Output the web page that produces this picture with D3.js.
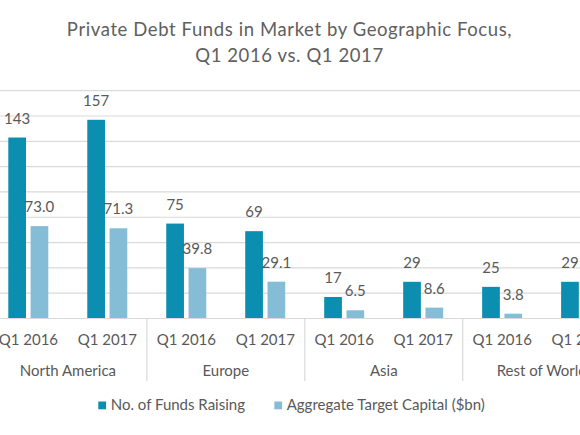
<!DOCTYPE html>
<html>
<head>
<meta charset="utf-8">
<script src="https://cdn.jsdelivr.net/npm/d3@7"></script>
<style>
  html, body { margin: 0; padding: 0; background: #ffffff; }
  svg { display: block; }
  text { font-family: Lato, "Open Sans", sans-serif; fill: #595959; }
</style>
</head>
<body>
<div id="chart"></div>
<script>
// ---- Data ----
const regions = ["North America", "Europe", "Asia", "Rest of World"];
const periods = ["Q1 2016", "Q1 2017"];
const seriesNames = ["No. of Funds Raising", "Aggregate Target Capital ($bn)"];
const fundsRaising = [143, 157, 75, 69, 17, 29, 25, 29];
const targetCapital = [73.0, 71.3, 39.8, 29.1, 6.5, 8.6, 3.8, 4.5];
const seriesLabels = [
  ["143", "157", "75", "69", "17", "29", "25", "29"],
  ["73.0", "71.3", "39.8", "29.1", "6.5", "8.6", "3.8", "4.5"]
];
const yTicks = [0, 20, 40, 60, 80, 100, 120, 140, 160, 180];
const titleLines = ["Private Debt Funds in Market by Geographic Focus,", "Q1 2016 vs. Q1 2017"];
const colors = ["#0b8eb0", "#86bdd6"];

// ---- Layout ----
const W = 580, H = 435;
const svg = d3.select("#chart").append("svg").attr("width", W).attr("height", H);

const subKeys = [];
regions.forEach(r => periods.forEach(p => subKeys.push(r + "|" + p)));
const values = [fundsRaising, targetCapital];

const x = d3.scaleBand().domain(subKeys).range([-11.1, 620.7]).padding(0);
const xRegion = d3.scaleBand().domain(regions).range([-11.1, 620.7]).padding(0);
const xInner = d3.scaleBand().domain([0, 1]).range([19.4, 59.4]).paddingInner(0.206).paddingOuter(0);
const y = d3.scaleLinear().domain([0, 180]).range([318.5, 90.7]);

// gridlines
svg.append("g").selectAll("line").data(yTicks.filter(d => d > 0)).join("line")
  .attr("x1", 0).attr("x2", W)
  .attr("y1", d => y(d)).attr("y2", d => y(d))
  .attr("stroke", "#d9d9d9").attr("stroke-width", 1.2);

// bars
const groups = svg.append("g").selectAll("g").data(subKeys).join("g")
  .attr("transform", d => `translate(${x(d)},0)`);

[0, 1].forEach(s => {
  groups.append("rect")
    .attr("x", xInner(s))
    .attr("width", xInner.bandwidth())
    .attr("y", (d, i) => y(values[s][i]))
    .attr("height", (d, i) => y(0) - y(values[s][i]))
    .attr("fill", colors[s]);
  groups.append("text")
    .attr("x", xInner(s) + xInner.bandwidth() / 2)
    .attr("y", (d, i) => y(values[s][i]) - 14)
    .attr("text-anchor", "middle")
    .attr("font-size", 15)
    .text((d, i) => seriesLabels[s][i]);
});

// axis baseline
svg.append("line").attr("x1", 0).attr("x2", W).attr("y1", y(0)).attr("y2", y(0))
  .attr("stroke", "#d9d9d9").attr("stroke-width", 1.2);

// category separators
const bounds = regions.map(r => xRegion(r)).concat([xRegion(regions[regions.length - 1]) + xRegion.bandwidth()]);
svg.append("g").selectAll("line").data(bounds).join("line")
  .attr("x1", d => d).attr("x2", d => d)
  .attr("y1", y(0)).attr("y2", 381)
  .attr("stroke", "#d9d9d9").attr("stroke-width", 1.2);

// sub-category labels
svg.append("g").selectAll("text").data(subKeys).join("text")
  .attr("x", d => x(d) + x.bandwidth() / 2)
  .attr("y", 344.5)
  .attr("text-anchor", "middle")
  .attr("font-size", 15)
  .text(d => d.split("|")[1]);

// region labels
svg.append("g").selectAll("text").data(regions).join("text")
  .attr("x", d => xRegion(d) + xRegion.bandwidth() / 2)
  .attr("y", 375.5)
  .attr("text-anchor", "middle")
  .attr("font-size", 15)
  .text(d => d);

// title
svg.append("g").selectAll("text").data(titleLines).join("text")
  .attr("x", 289.5)
  .attr("y", (d, i) => 36 + i * 25.5)
  .attr("text-anchor", "middle")
  .attr("font-size", 18.5)
  .attr("letter-spacing", 0.6)
  .style("fill", "#606060")
  .text(d => d);

// legend
const legendX = [98.3, 274.3];
const lg = svg.append("g").selectAll("g").data(seriesNames).join("g")
  .attr("transform", (d, i) => `translate(${legendX[i]},401.5)`);
lg.append("rect").attr("width", 7.8).attr("height", 7.8).attr("fill", (d, i) => colors[i]);
lg.append("text").attr("x", 12.4).attr("y", 8.6).attr("font-size", 15).text(d => d);
</script>
</body>
</html>
